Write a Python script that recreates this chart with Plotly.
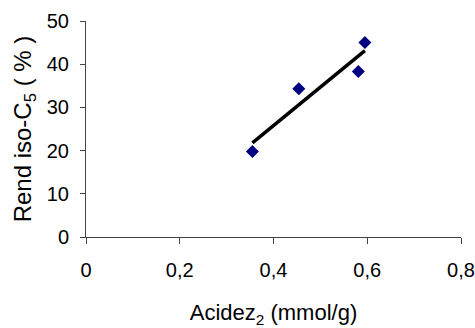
import numpy as np
import plotly.graph_objects as go

acidez = [0.355, 0.454, 0.581, 0.595]
rend = [19.8, 34.3, 38.3, 45.0]
x_ticks = [0, 0.2, 0.4, 0.6, 0.8]
x_ticklabels = ["0", "0,2", "0,4", "0,6", "0,8"]
y_ticks = [0, 10, 20, 30, 40, 50]

slope, intercept = np.polyfit(acidez, rend, 1)
fit_x = [min(acidez), max(acidez)]
fit_y = [slope * v + intercept for v in fit_x]

font = "Liberation Sans, Arial, sans-serif"

fig = go.Figure()
fig.add_trace(go.Scatter(x=fit_x, y=fit_y, mode="lines",
                         line=dict(color="black", width=3.5), showlegend=False))
fig.add_trace(go.Scatter(x=acidez, y=rend, mode="markers",
                         marker=dict(symbol="diamond", color="#000080", size=10),
                         showlegend=False))

fig.update_layout(
    width=475, height=328,
    margin=dict(l=86, r=14, t=21, b=91),
    paper_bgcolor="white", plot_bgcolor="white",
    font=dict(family=font, color="black", size=20),
    xaxis=dict(range=[0, 0.8], tickvals=x_ticks, ticktext=x_ticklabels,
               showgrid=False, zeroline=False, showline=True, linecolor="#444",
               linewidth=1, ticks="outside", ticklen=6, tickcolor="#444",
               ticklabelstandoff=9, tickfont=dict(size=20), automargin=False,
               title=dict(text="Acidez<sub>2</sub> (mmol/g)", font=dict(size=22), standoff=27)),
    yaxis=dict(range=[0, 50], tickvals=y_ticks,
               showgrid=False, zeroline=False, showline=True, linecolor="#444",
               linewidth=1, ticks="outside", ticklen=5, tickcolor="#444",
               ticklabelstandoff=7, tickfont=dict(size=20), automargin=False,
               title=dict(text="Rend iso-C<sub>5</sub> ( % )", font=dict(size=24), standoff=8)),
)

fig.write_html("out.html")
